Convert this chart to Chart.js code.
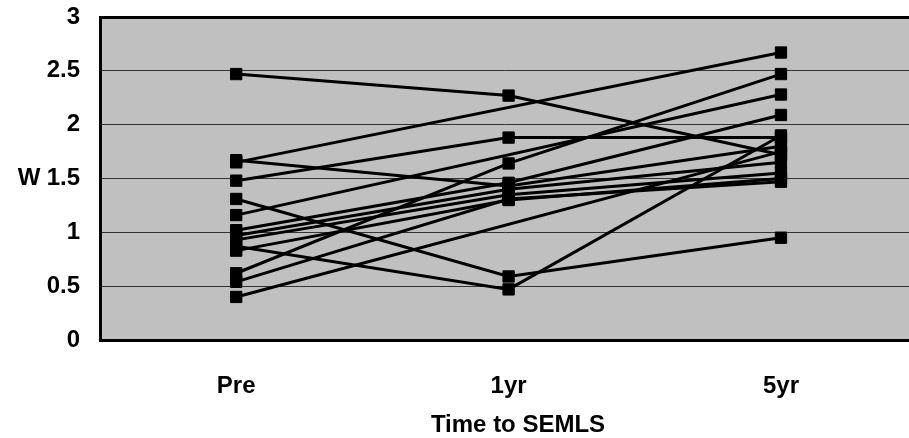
<!DOCTYPE html>
<html lang="en">
<head>
    <meta charset="UTF-8">
    <title>W over time</title>
    <script src="https://cdn.jsdelivr.net/npm/chart.js"></script>
    <style>
        body {
            margin: 0;
            background: #ffffff;
        }
        .wrap {
            width: 909px;
            height: 438px;
        }
    </style>
</head>
<body>
    <div class="wrap">
        <canvas id="wChart" width="909" height="438"></canvas>
    </div>

    <script>
        // time points
        const categories = ['Pre', '1yr', '5yr'];

        // one array per subject: Pre, 1yr, 5yr (null = no 1yr visit)
        const case01 = [2.47, 2.27, 1.72];
        const case02 = [1.65, null, 2.67];
        const case03 = [1.48, 1.88, 1.88];
        const case04 = [1.67, 1.43, 1.80];
        const case05 = [1.16, null, 2.28];
        const case06 = [1.31, 0.59, 0.95];
        const case07 = [0.87, 0.47, 1.90];
        const case08 = [0.62, 1.64, 2.47];
        const case09 = [0.54, 1.31, 1.47];
        const case10 = [1.02, 1.46, 2.09];
        const case11 = [0.97, 1.40, 1.65];
        const case12 = [0.93, 1.35, 1.55];
        const case13 = [0.83, 1.30, 1.50];
        const case14 = [0.40, null, 1.75];

        const yTicks = [0, 0.5, 1, 1.5, 2, 2.5, 3];

        const allCases = [case01, case02, case03, case04, case05, case06, case07,
                          case08, case09, case10, case11, case12, case13, case14];

        const FONT = "'Liberation Sans', Arial, sans-serif";
        const FONT_SIZE = 24;

        const datasets = allCases.map(values => ({
            data: values.map((v, i) => ({ x: i, y: v })),
            borderColor: '#000000',
            backgroundColor: '#000000',
            borderWidth: 3,
            pointStyle: 'rect',
            pointRadius: 8,
            pointBorderWidth: 1,
            pointBackgroundColor: '#000000',
            pointBorderColor: '#000000',
            spanGaps: true,
            tension: 0
        }));

        // grey plot area plus the free-standing texts
        const plotDecor = {
            id: 'plotDecor',
            beforeDraw(chart) {
                const { ctx, chartArea } = chart;
                ctx.save();
                ctx.fillStyle = '#c0c0c0';
                ctx.fillRect(chartArea.left, chartArea.top,
                             chartArea.right - chartArea.left, chartArea.bottom - chartArea.top);
                ctx.restore();
            },
            afterDraw(chart) {
                const { ctx } = chart;
                const yScale = chart.scales.y;
                ctx.save();
                ctx.fillStyle = '#000000';
                ctx.font = 'bold ' + FONT_SIZE + 'px ' + FONT;
                ctx.textAlign = 'center';
                ctx.textBaseline = 'middle';
                ctx.fillText('W', 29, yScale.getPixelForValue(1.5));
                ctx.fillText('Time to SEMLS', 518, 425);
                ctx.restore();
            }
        };

        new Chart(document.getElementById('wChart'), {
            type: 'line',
            data: { datasets: datasets },
            plugins: [plotDecor],
            options: {
                responsive: false,
                animation: false,
                layout: {
                    autoPadding: false,
                    padding: { top: 17, right: 0, bottom: 0, left: 0 }
                },
                plugins: {
                    legend: { display: false },
                    tooltip: { enabled: false }
                },
                scales: {
                    x: {
                        type: 'linear',
                        min: -0.5,
                        max: 2.47,
                        afterBuildTicks: scale => {
                            scale.ticks = categories.map((c, i) => ({ value: i }));
                        },
                        afterFit: scale => {
                            scale.height = 98;
                            scale.paddingLeft = 0;
                            scale.paddingRight = 0;
                        },
                        grid: { display: false },
                        border: { display: false },
                        ticks: {
                            callback: value => categories[value],
                            color: '#000000',
                            font: { family: FONT, size: FONT_SIZE, weight: 'bold' },
                            padding: 24,
                            maxRotation: 0
                        }
                    },
                    y: {
                        min: 0,
                        max: 3,
                        afterBuildTicks: scale => {
                            scale.ticks = yTicks.map(v => ({ value: v }));
                        },
                        afterFit: scale => {
                            scale.width = 100;
                            scale.paddingTop = 0;
                            scale.paddingBottom = 0;
                        },
                        border: { display: true, color: '#000000', width: 3 },
                        grid: {
                            drawTicks: false,
                            color: ctx => (ctx.tick.value === 0 || ctx.tick.value === 3) ? '#000000' : '#333333',
                            lineWidth: ctx => (ctx.tick.value === 0 || ctx.tick.value === 3) ? 3 : 1
                        },
                        ticks: {
                            callback: value => String(value),
                            color: '#000000',
                            font: { family: FONT, size: FONT_SIZE, weight: 'bold' },
                            padding: 20
                        }
                    }
                }
            }
        });
    </script>
</body>
</html>
